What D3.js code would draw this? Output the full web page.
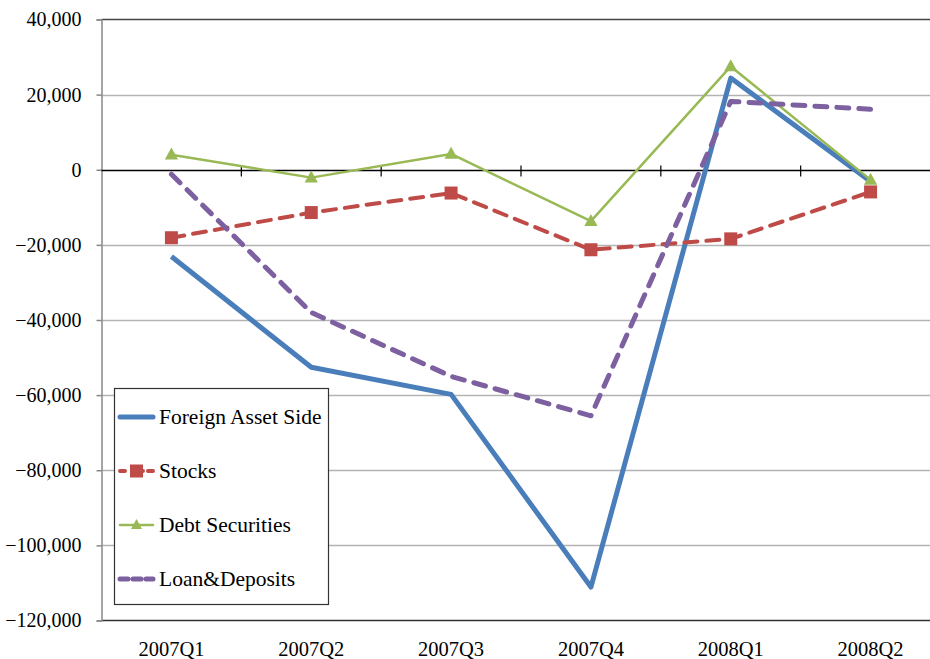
<!DOCTYPE html>
<html>
<head>
<meta charset="utf-8">
<script src="https://cdn.jsdelivr.net/npm/d3@7"></script>
<style>
  body { margin: 0; background: #fff; }
  svg { display: block; }
</style>
</head>
<body>
<svg id="chart" width="930" height="659" font-family="Liberation Serif"></svg>
<script>
// data
const quarters = ['2007Q1', '2007Q2', '2007Q3', '2007Q4', '2008Q1', '2008Q2'];
const foreignAsset = [-23100, -52600, -59800, -111100, 24400, -3100];
const stocks = [-18100, -11400, -6200, -21300, -18400, -5900];
const debtSecurities = [4000, -2100, 4200, -13700, 27500, -2700];
const loanDeposits = [-1200, -38000, -55000, -65500, 18200, 16100];
const yTicks = [40000, 20000, 0, -20000, -40000, -60000, -80000, -100000, -120000];

const series = [
  { name: 'Foreign Asset Side', values: foreignAsset, color: '#4a7ebb', width: 5, dash: null, marker: null },
  { name: 'Stocks', values: stocks, color: '#be4b48', width: 4, dash: '13,9', marker: 'square' },
  { name: 'Debt Securities', values: debtSecurities, color: '#98b954', width: 2.5, dash: null, marker: 'triangle' },
  { name: 'Loan&Deposits', values: loanDeposits, color: '#7d60a0', width: 5, dash: '12,10', marker: null }
];

const FONT = 'Liberation Serif';

// layout
const plotL = 101.5, plotR = 940.5, plotT = 19.5, plotB = 620.5;
const svg = d3.select('#chart');

const x = d3.scaleBand().domain(quarters).range([plotL, plotR]);
const y = d3.scaleLinear().domain([-120000, 40000]).range([plotB, plotT]);

// gridlines
svg.append('g')
  .selectAll('line')
  .data(yTicks.filter(d => d !== 0 && d !== 40000 && d !== -120000))
  .join('line')
  .attr('x1', plotL).attr('x2', plotR)
  .attr('y1', d => Math.round(y(d)) + 0.5).attr('y2', d => Math.round(y(d)) + 0.5)
  .attr('stroke', '#b3b3b3').attr('stroke-width', 1.5);

// plot border top / bottom
svg.append('line').attr('x1', plotL).attr('x2', plotR).attr('y1', plotT).attr('y2', plotT)
  .attr('stroke', '#444').attr('stroke-width', 1.5);
svg.append('line').attr('x1', plotL).attr('x2', plotR).attr('y1', plotB).attr('y2', plotB)
  .attr('stroke', '#333').attr('stroke-width', 1.5);

// y axis
const yAxis = svg.append('g')
  .attr('transform', `translate(${plotL},0)`)
  .call(d3.axisLeft(y).tickValues(yTicks).tickSize(5).tickPadding(15)
    .tickFormat(d3.format(',')));
yAxis.attr('font-family', FONT).attr('font-size', 20);
yAxis.select('.domain').attr('stroke', '#888').attr('stroke-width', 1.5);
yAxis.selectAll('.tick line').attr('stroke', '#888').attr('stroke-width', 1.5);
yAxis.selectAll('.tick text').attr('fill', '#000');

// x axis line at zero with crossing ticks
const y0 = Math.round(y(0)) + 0.5;
svg.append('line').attr('x1', plotL).attr('x2', plotR).attr('y1', y0).attr('y2', y0)
  .attr('stroke', '#000').attr('stroke-width', 1.5);
svg.append('g')
  .selectAll('line')
  .data(quarters.slice(1))
  .join('line')
  .attr('x1', d => x(d)).attr('x2', d => x(d))
  .attr('y1', y0 - 5).attr('y2', y0 + 6)
  .attr('stroke', '#000').attr('stroke-width', 1.2);

// category labels
svg.append('g')
  .selectAll('text')
  .data(quarters)
  .join('text')
  .attr('x', d => x(d) + x.bandwidth() / 2)
  .attr('y', 656)
  .attr('text-anchor', 'middle')
  .attr('font-family', FONT)
  .attr('font-size', 20.5)
  .text(d => d);

// lines
const line = d3.line()
  .x((d, i) => x(quarters[i]) + x.bandwidth() / 2)
  .y(d => y(d));

function drawMarker(g, type, color, cx, cy, s) {
  if (type === 'square') {
    g.append('rect').attr('x', cx - s / 2).attr('y', cy - s / 2)
      .attr('width', s).attr('height', s).attr('fill', color);
  } else if (type === 'triangle') {
    g.append('path')
      .attr('d', `M${cx},${cy - s * 0.6}L${cx + s * 0.55},${cy + s * 0.4}L${cx - s * 0.55},${cy + s * 0.4}Z`)
      .attr('fill', color);
  }
}

series.forEach(s => {
  const g = svg.append('g');
  g.append('path')
    .datum(s.values)
    .attr('d', line)
    .attr('fill', 'none')
    .attr('stroke', s.color)
    .attr('stroke-width', s.width)
    .attr('stroke-linejoin', 'round')
    .attr('stroke-linecap', s.dash ? 'round' : 'butt')
    .attr('stroke-dasharray', s.dash);
  if (s.marker) {
    s.values.forEach((v, i) => {
      drawMarker(g, s.marker, s.color, x(quarters[i]) + x.bandwidth() / 2, y(v), s.marker === 'square' ? 13 : 12);
    });
  }
});

// legend
const lg = svg.append('g');
lg.append('rect').attr('x', 114.5).attr('y', 388.5).attr('width', 214).attr('height', 216)
  .attr('fill', '#fff').attr('stroke', '#333').attr('stroke-width', 1.2);
series.forEach((s, i) => {
  const cy = 417 + i * 54;
  lg.append('line')
    .attr('x1', 120).attr('x2', 153).attr('y1', cy).attr('y2', cy)
    .attr('stroke', s.color).attr('stroke-width', s.width)
    .attr('stroke-linecap', 'round')
    .attr('stroke-dasharray', s.dash ? (s.marker ? '5,12,6' : '8,5') : null);
  if (s.marker) drawMarker(lg, s.marker, s.color, 136.5, cy, s.marker === 'square' ? 13 : 10);
  lg.append('text')
    .attr('x', 159).attr('y', cy + 7)
    .attr('font-family', FONT)
    .attr('font-size', 21.5)
    .text(s.name);
});
</script>
</body>
</html>
